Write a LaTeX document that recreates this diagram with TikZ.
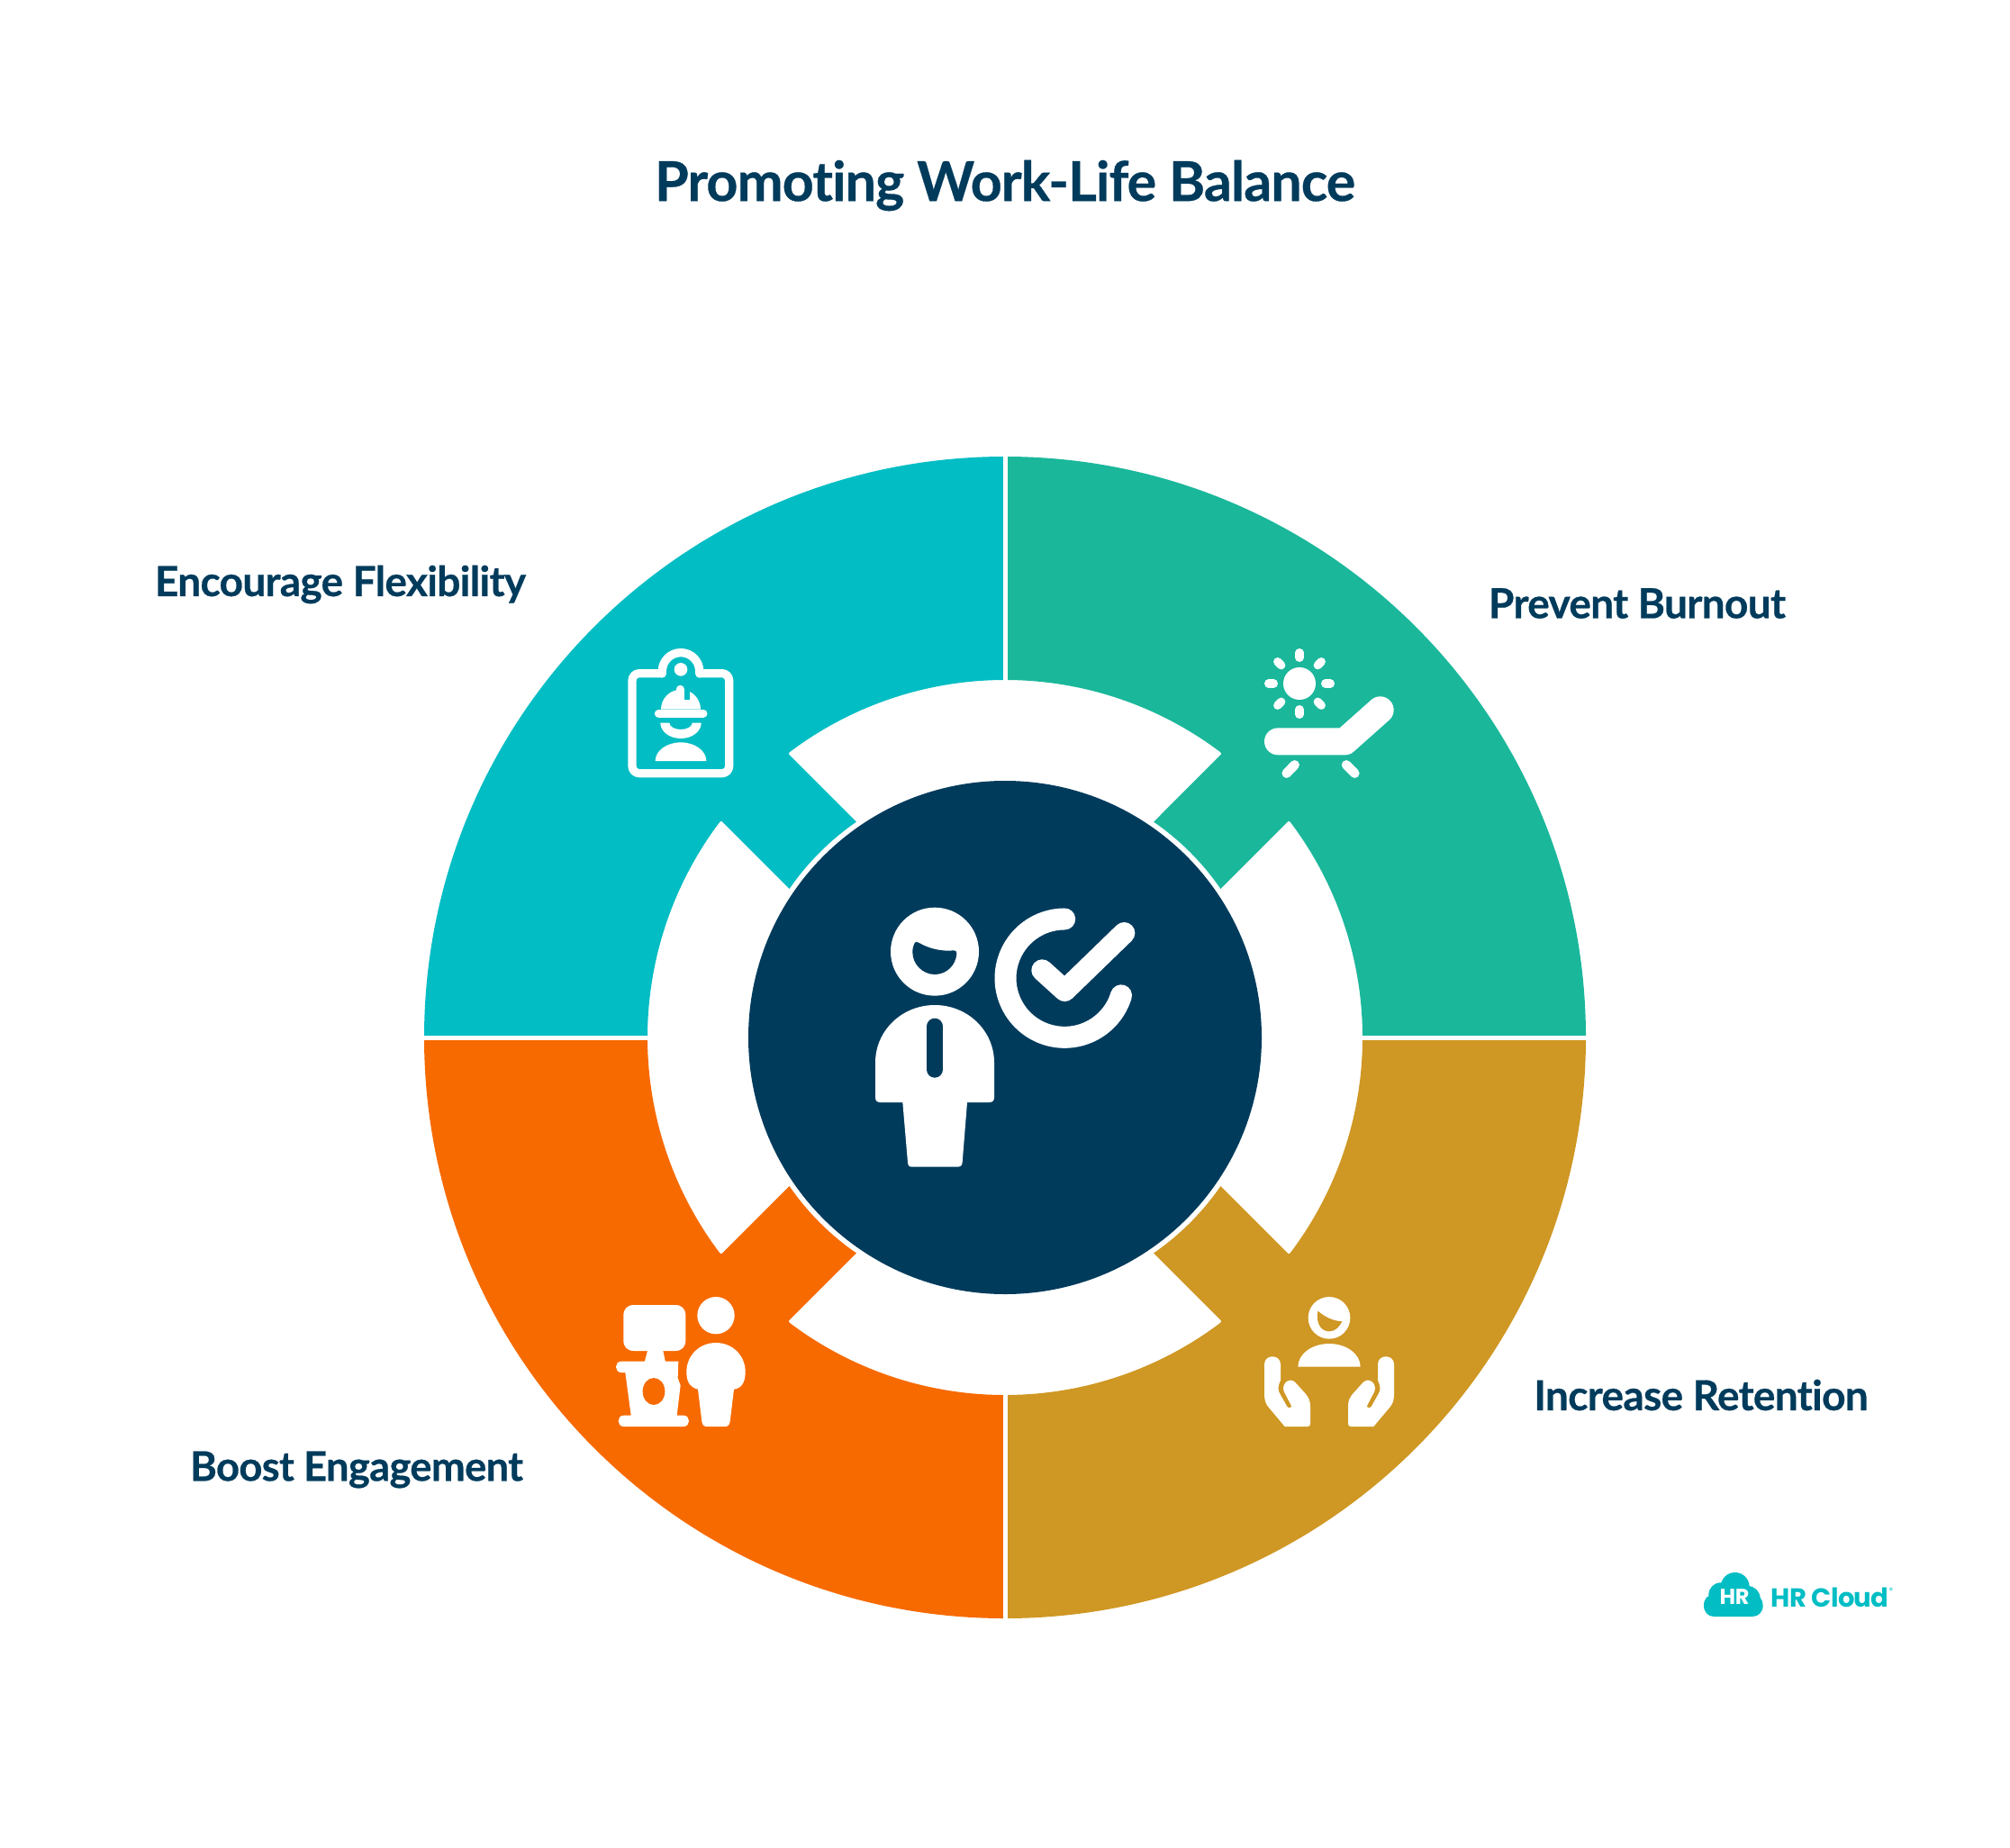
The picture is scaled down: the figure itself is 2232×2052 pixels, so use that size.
\documentclass[tikz,border=0pt]{standalone}
\usepackage{fontspec}
\setmainfont{Lato}[Ligatures=NoCommon,BoldFeatures={FakeBold=0.5,LetterSpace=-1.5}]
\newfontfamily\logofont{Poppins}[BoldFeatures={LetterSpace=-2}]
\definecolor{cteal}{HTML}{02BDC4}
\definecolor{cgreen}{HTML}{1AB79B}
\definecolor{cgold}{HTML}{CF9723}
\definecolor{corange}{HTML}{F76A00}
\definecolor{cnavy}{HTML}{003B5C}
\tikzset{
  titletext/.style={text=cnavy,font=\fontsize{61}{70}\selectfont\bfseries,inner sep=0pt},
  labeltext/.style={text=cnavy,font=\fontsize{46}{52}\selectfont\bfseries,inner sep=0pt},
  iconline/.style={draw=white,line cap=round,line join=round},
  zoomed/.style={shift={#1},scale=1/3},
}
\newcommand{\handshape}{%
  \fill[white] (72,285) .. controls (72,250) and (126,250) .. (126,285) -- (126,338) .. controls (116,360) and (116,370) .. (125,385) -- (148,426) .. controls (152,432) and (160,432) .. (163,425) -- (137,375) .. controls (128,350) and (155,325) .. (175,345) -- (205,378) .. controls (220,395) and (225,405) .. (225,425) -- (225,482) .. controls (225,489) and (222,492) .. (215,492) -- (140,492) -- (88,430) .. controls (77,418) and (72,405) .. (72,385) -- cycle;%
}
\begin{document}
\begin{tikzpicture}[x=1pt,y=1pt,yscale=-1]
\useasboundingbox (0,0) rectangle (2232,2052);
\fill[white] (0,0) rectangle (2232,2052);
% quadrants
\begin{scope}[shift={(1116,1152)}]
\foreach \c/\a in {cteal/0,cgreen/90,cgold/180,corange/270}{
  \fill[\c,rotate=\a]
    (180:645) arc[start angle=180,end angle=270,radius=645]
    -- (270:397) arc[start angle=270,end angle=233.3,radius=397]
    .. controls (-241.1,-315.4) .. (-238.3,-312.6)
    -- (-165.1,-239.4) arc[start angle=235.4,end angle=214.6,radius=291]
    -- (-312.6,-238.3)
    .. controls (-315.4,-241.1) .. (216.7:397)
    arc[start angle=216.7,end angle=180,radius=397] -- cycle;
}
\draw[white,line width=5pt] (-650,0) -- (650,0) (0,-650) -- (0,650);
\fill[cnavy] (0,0) circle[radius=285];
\end{scope}
% centre icon
\begin{scope}[zoomed={(940,980)}]
\fill[white] (294,230) circle[radius=147];
\fill[cnavy] (226,203) .. controls (228,196) and (234,196) .. (240,200) .. controls (278,222) and (320,230) .. (358,226) .. controls (364,226) and (367,230) .. (367,236) .. controls (365,275) and (333,306) .. (294,306) .. controls (254,306) and (220,272) .. (220,232) .. controls (220,220) and (222,212) .. (226,203) -- cycle;
\fill[white] (96,600) .. controls (96,492) and (186,408) .. (294,408) .. controls (402,408) and (492,492) .. (492,600) -- (492,716) .. controls (492,726) and (486,732) .. (476,732) -- (402,732) -- (386,932) .. controls (385,942) and (380,947) .. (370,947) -- (218,947) .. controls (208,947) and (205,942) .. (204,932) -- (187,732) -- (112,732) .. controls (102,732) and (96,726) .. (96,716) -- cycle;
\draw[cnavy,line width=18pt,line cap=round] (294,479) -- (294,623);
\draw[iconline,line width=24pt] (915,376) arc[start angle=17,end angle=270,radius=197];
\draw[iconline,line width=24pt] (652,292) -- (727,360) -- (925,168);
\end{scope}
% clipboard icon
\begin{scope}[zoomed={(660,690)}]
\draw[white,line width=9.3pt,line join=round,rounded corners=8pt] (226,173) -- (126,173) -- (126,506) -- (449,506) -- (449,173) -- (350,173);
\draw[white,line width=9.3pt,line cap=round] (226,174) -- (226,166) arc[start angle=180,end angle=360,radius=62] -- (350,174);
\fill[white] (288,160) circle[radius=22];
\fill[white] (222,293) arc[start angle=180,end angle=360,radius=66] -- cycle;
\draw[cteal,line width=6pt] (308,215) -- (308,262);
\draw[iconline,line width=9pt] (285,226) -- (285,270);
\draw[iconline,line width=9pt] (214,306) -- (363,306);
\fill[white] (220,338) -- (250,338) arc[start angle=180,end angle=0,x radius=38,y radius=22] -- (356,338) arc[start angle=0,end angle=180,x radius=68,y radius=52] -- cycle;
\fill[white] (203,465) arc[start angle=180,end angle=360,x radius=85,y radius=62] -- cycle;
\end{scope}
% lounger icon
\begin{scope}[zoomed={(1370,690)}]
\fill[white] (219,207) circle[radius=54];
\foreach \r in {0,45,...,315}{
  \draw[iconline,line width=9.3pt] (219,207) ++(\r:86) -- ++(\r:17);
}
\draw[iconline,line width=30pt] (147,400) -- (370,400) -- (488,295);
\draw[iconline,line width=10.5pt] (203,478) -- (176,506);
\draw[iconline,line width=10.5pt] (375,478) -- (403,506);
\end{scope}
% podium icon
\begin{scope}[zoomed={(670,1420)}]
\fill[white] (67,122) .. controls (67,100) and (80,87) .. (102,87) -- (239,87) .. controls (261,87) and (274,100) .. (274,122) -- (274,205) .. controls (274,227) and (261,240) .. (239,240) -- (102,240) .. controls (80,240) and (67,227) .. (67,205) -- cycle;
\fill[white] (147,240) -- (199,240) -- (207,278) -- (137,278) -- cycle;
\fill[white] (60,275) -- (250,275) -- (248,330) -- (257,355) -- (245,455) -- (267,455) .. controls (291,455) and (291,492) .. (267,492) -- (68,492) .. controls (44,492) and (44,455) .. (68,455) -- (92,455) -- (73,312) -- (60,312) .. controls (36,312) and (36,275) .. (60,275) -- cycle;
\fill[corange] (168,375) ellipse[x radius=37,y radius=45];
\fill[white] (375,122) circle[radius=62];
\fill[white] (277,310) .. controls (277,255) and (320,213) .. (375,213) .. controls (430,213) and (473,255) .. (473,310) .. controls (473,345) and (460,365) .. (435,368) -- (422,475) .. controls (420,487) and (415,492) .. (405,492) -- (345,492) .. controls (335,492) and (330,487) .. (328,475) -- (315,368) .. controls (290,362) and (277,345) .. (277,310) -- cycle;
\end{scope}
% hands icon
\begin{scope}[zoomed={(1380,1420)}]
\fill[white] (288,130) circle[radius=70];
\fill[cgold] (250,107) .. controls (275,128) and (300,140) .. (331,142) .. controls (322,160) and (308,175) .. (288,175) .. controls (262,175) and (243,150) .. (250,107) -- cycle;
\fill[white] (184,293) arc[start angle=180,end angle=360,x radius=104,y radius=77] -- cycle;
\handshape
\begin{scope}[shift={(576,0)},xscale=-1]
\handshape
\end{scope}
\end{scope}
% texts
\node[titletext] (title) at (1116,206) {Promoting Work-Life Balance};
\node[labeltext] (flex) at (378,649) {Encourage Flexibility};
\node[labeltext] (burn) at (1818,670) {Prevent Burnout};
\node[labeltext] (ret) at (1889,1549) {Increase Retention};
\node[labeltext,font=\fontsize{45.3}{52}\selectfont\bfseries] (eng) at (396,1632) {Boost Engagement};
% logo
\begin{scope}[zoomed={(1870,1730)}]
\fill[cteal] (66,158) .. controls (66,135) and (80,122) .. (98,122) -- (230,122) .. controls (250,122) and (263,138) .. (263,158) .. controls (263,180) and (248,195) .. (228,195) -- (100,195) .. controls (80,195) and (66,180) .. (66,158) -- cycle;
\fill[cteal] (170,96) circle[radius=48];
\fill[cteal] (122,122) circle[radius=40];
\fill[cteal] (212,135) circle[radius=42];
\end{scope}
\node[text=white,font=\logofont\fontsize{24}{30}\selectfont\bfseries,inner sep=0pt] (hr) at (1926,1773) {HR};
\node[text=cteal,font=\logofont\fontsize{29}{36}\selectfont\bfseries,inner sep=0pt] (cloud) at (2032,1774) {HR Cloud};
\node[text=cteal,font=\logofont\fontsize{9}{10}\selectfont,inner sep=0pt] (reg) at (2100,1766) {®};
\end{tikzpicture}
\end{document}
